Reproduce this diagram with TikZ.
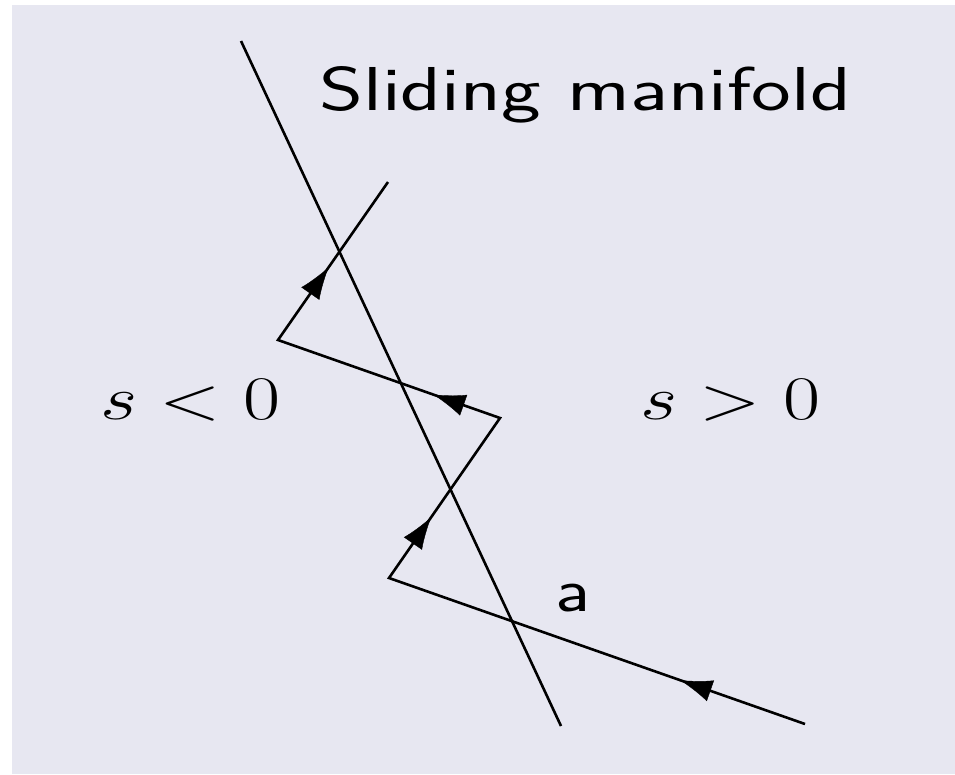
\RequirePackage{fix-cm}
\documentclass[tikz,border=0pt]{standalone}
\usetikzlibrary{arrows.meta,decorations.markings}
\definecolor{bgcol}{RGB}{231,231,241}
\tikzset{
  trajline/.style={line width=2.6pt, line join=miter, black},
  manline/.style={line width=2.6pt, black},
  arrowat/.style={postaction={decorate}, decoration={markings,
     mark=at position #1 with {\arrow{Latex[length=32pt,width=22pt]}}}},
  lbl/.style={inner sep=0pt, anchor=base west, font=\fontsize{62}{70}\selectfont}
}
\begin{document}
\begin{tikzpicture}[x=1pt,y=-1pt]
\useasboundingbox (0,0) rectangle (955,774);
\fill[bgcol] (12,5) rectangle (955,774);
% sliding manifold
\coordinate (mtop) at (241,41);
\coordinate (mbot) at (561,726);
\draw[manline] (mtop) -- (mbot);
% trajectory
\coordinate (p0) at (805,724);
\coordinate (p1) at (389,578);
\coordinate (p2) at (500,418);
\coordinate (p3) at (278,340);
\coordinate (p4) at (388,182);
\draw[trajline] (p0) -- (p1) -- (p2) -- (p3) -- (p4);
\path[arrowat=0.30] (p0) -- (p1);
\path[arrowat=0.38] (p1) -- (p2);
\path[arrowat=0.30] (p2) -- (p3);
\path[arrowat=0.46] (p3) -- (p4);
% labels
\node[lbl] (title) at (319,110) {\scalebox{1.36}[1]{\sffamily Sliding manifold}};
\node[lbl] (neg) at (100,419) {\scalebox{1.30}[1]{$s<0$}};
\node[lbl] (pos) at (640,419) {\scalebox{1.30}[1]{$s>0$}};
\node[lbl] (a) at (555,611) {\scalebox{1.25}[1]{\sffamily a}};
\end{tikzpicture}
\end{document}
